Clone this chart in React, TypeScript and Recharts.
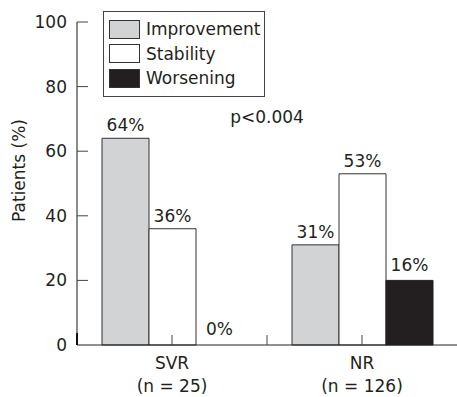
import React from 'react';
import { BarChart, Bar, XAxis, YAxis, Legend, LabelList, ReferenceLine, Cell } from 'recharts';

const categories = ['SVR', 'NR'];
const groupSizes = ['(n = 25)', '(n = 126)'];
const improvement = [64, 31];
const stability = [36, 53];
const worsening = [0, 20];
const improvementLabels = ['64%', '31%'];
const stabilityLabels = ['36%', '53%'];
const worseningLabels = ['0%', '16%'];
const yTicks = [0, 20, 40, 60, 80, 100];
const pValueText = 'p<0.004';
const pValueLevel = 70.5;

const data = categories.map((c, i) => ({
  group: c,
  size: groupSizes[i],
  improvement: improvement[i],
  stability: stability[i],
  worsening: worsening[i],
  improvementLabel: improvementLabels[i],
  stabilityLabel: stabilityLabels[i],
  worseningLabel: worseningLabels[i],
}));

const W = 457;
const H = 397;
const Y_AXIS_W = 77;
const X_AXIS_H = 52;
const TOP = 22;
const FONT = 'DejaVu Sans, sans-serif';
const TEXT = '#231f20';
const WORSE = '#231f20';
const BAND = (W - Y_AXIS_W) / categories.length;

const YTick = (props: any) => {
  const { x, y, payload } = props;
  const axisX = x + 10;
  return (
    <g>
      {payload.value !== 0 && (
        <line x1={axisX} x2={axisX + 11} y1={y} y2={y} stroke="#444" strokeWidth={1} />
      )}
      {payload.value === 0 && (
        <line x1={axisX} x2={axisX} y1={y} y2={y - 12} stroke="#111" strokeWidth={2} />
      )}
      <text x={x} y={y} textAnchor="end" dominantBaseline="central" fontSize={17} fill={TEXT} fontFamily={FONT}>
        {payload.value}
      </text>
    </g>
  );
};

const XTick = (props: any) => {
  const { x, y, payload, index } = props;
  const size = data[index] ? data[index].size : '';
  return (
    <g>
      <line x1={x} x2={x} y1={y} y2={y - 10} stroke="#444" strokeWidth={1} />
      {index === 0 && (
        <line x1={x + BAND / 2} x2={x + BAND / 2} y1={y} y2={y - 10} stroke="#444" strokeWidth={1} />
      )}
      <text x={x} y={y + 24} textAnchor="middle" fontSize={17} fill={TEXT} fontFamily={FONT}>
        {payload.value}
      </text>
      <text x={x} y={y + 47} textAnchor="middle" fontSize={17} fill={TEXT} fontFamily={FONT}>
        {size}
      </text>
    </g>
  );
};

const LegendBox = (props: any) => {
  const { payload } = props;
  return (
    <div
      style={{
        border: '1px solid #444',
        width: 160,
        height: 79,
        boxSizing: 'content-box',
        paddingTop: 5,
        fontFamily: FONT,
        fontSize: 17,
        color: TEXT,
      }}
    >
      {(payload || []).map((p: any) => (
        <div key={p.value} style={{ display: 'flex', alignItems: 'center', height: 24.5, marginLeft: 5 }}>
          <div
            style={{
              width: 29,
              height: 17,
              background: p.color,
              border: '1px solid #333',
              marginRight: 6,
            }}
          />
          <span style={{ lineHeight: '20px' }}>{p.value}</span>
        </div>
      ))}
    </div>
  );
};

const YLabel = (props: any) => {
  const { viewBox } = props;
  const cx = viewBox.x + 19;
  const cy = viewBox.y + viewBox.height / 2 - 13;
  return (
    <text
      x={cx}
      y={cy}
      transform={`rotate(-90, ${cx}, ${cy})`}
      textAnchor="middle"
      dominantBaseline="central"
      fontSize={17}
      fill={TEXT}
      fontFamily={FONT}
    >
      Patients (%)
    </text>
  );
};

export default function App() {
  return (
    <div style={{ position: 'absolute', left: 0, top: 0, width: W, height: H, background: '#fff', fontFamily: FONT }}>
      <BarChart
        width={W}
        height={H}
        data={data}
        margin={{ top: TOP, right: 0, bottom: 0, left: 0 }}
        barCategoryGap={25}
        barGap={0}
      >
        <XAxis
          dataKey="group"
          height={X_AXIS_H}
          tickSize={0}
          tickMargin={0}
          tick={<XTick />}
          axisLine={{ stroke: '#222', strokeWidth: 1 }}
          interval={0}
        />
        <YAxis
          width={Y_AXIS_W}
          domain={[0, 100]}
          ticks={yTicks}
          tickSize={0}
          tickMargin={10}
          tick={<YTick />}
          axisLine={{ stroke: '#8a8a8a', strokeWidth: 2 }}
          label={<YLabel />}
          interval={0}
        />
        <Legend
          layout="vertical"
          align="center"
          verticalAlign="middle"
          content={<LegendBox />}
          wrapperStyle={{ position: 'absolute', left: 103, top: 11, width: 162, height: 82 }}
        />
        <ReferenceLine
          y={pValueLevel}
          stroke="none"
          strokeOpacity={0}
          label={{ value: pValueText, position: 'center', fontSize: 17, fill: TEXT, fontFamily: FONT }}
        />
        <Bar dataKey="improvement" name="Improvement" fill="#d1d3d4" stroke="#333" strokeWidth={1} isAnimationActive={false}>
          <LabelList dataKey="improvementLabel" position="top" offset={7} fontSize={17} fill={TEXT} fontFamily={FONT} />
        </Bar>
        <Bar dataKey="stability" name="Stability" fill="#ffffff" stroke="#333" strokeWidth={1} isAnimationActive={false}>
          <LabelList dataKey="stabilityLabel" position="top" offset={7} fontSize={17} fill={TEXT} fontFamily={FONT} />
        </Bar>
        <Bar
          dataKey="worsening"
          name="Worsening"
          fill={WORSE}
          stroke={WORSE}
          strokeWidth={1}
          minPointSize={1}
          isAnimationActive={false}
        >
          {data.map((d) => (
            <Cell
              key={d.group}
              fill={d.worsening === 0 ? 'none' : WORSE}
              stroke={d.worsening === 0 ? 'none' : WORSE}
            />
          ))}
          <LabelList dataKey="worseningLabel" position="top" offset={9} fontSize={17} fill={TEXT} fontFamily={FONT} />
        </Bar>
      </BarChart>
    </div>
  );
}
